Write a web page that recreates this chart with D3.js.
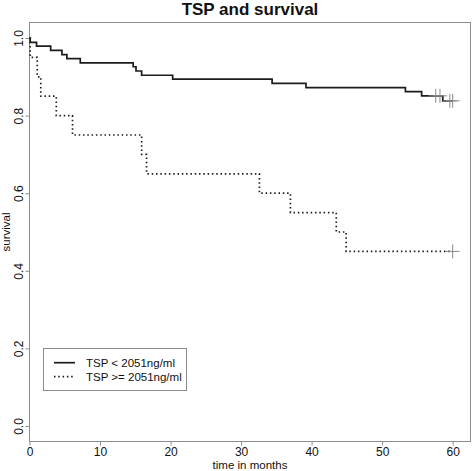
<!DOCTYPE html>
<html>
<head>
<meta charset="utf-8">
<script src="https://cdn.jsdelivr.net/npm/d3@7"></script>
<style>
  html, body { margin: 0; padding: 0; background: #fff; }
  svg { display: block; font-family: "Liberation Sans", Arial, sans-serif; }
</style>
</head>
<body>
<svg id="chart" width="472" height="471"></svg>
<script>
// ---- data ----
const groupNames = ["TSP < 2051ng/ml", "TSP >= 2051ng/ml"];

const lowTimes = [0, 0.1, 1.0, 3.0, 4.6, 5.3, 7.2, 14.7, 15.1, 15.9, 20.3, 34.4, 39.2, 53.3, 55.6, 58.6, 60.0];
const lowSurv  = [1.0, 0.989, 0.979, 0.968, 0.957, 0.947, 0.936, 0.926, 0.915, 0.904, 0.894, 0.883, 0.872, 0.862, 0.851, 0.838, 0.838];
const lowCensorTimes = [57.6, 58.2, 59.6, 60.0];
const lowCensorSurv  = [0.851, 0.851, 0.838, 0.838];

const highTimes = [0, 0.1, 1.1, 1.6, 3.8, 6.1, 15.9, 16.6, 32.6, 37.0, 43.5, 44.9, 60.0];
const highSurv  = [1.0, 0.95, 0.90, 0.85, 0.80, 0.75, 0.70, 0.65, 0.60, 0.55, 0.50, 0.45, 0.45];
const highCensorTimes = [60.0];
const highCensorSurv  = [0.45];

const xTicks = [0, 10, 20, 30, 40, 50, 60];
const yTicks = [0.0, 0.2, 0.4, 0.6, 0.8, 1.0];

// ---- layout ----
const svg = d3.select("#chart");
const L = 29.5, R = 470.5, T = 22.5, B = 441.5;
const x = d3.scaleLinear().domain([0, 62.53]).range([L, R]);
const y = d3.scaleLinear().domain([-0.04, 1.04]).range([B, T]);
const axisCol = "#8c8c8c";

svg.append("rect").attr("width", 472).attr("height", 471).attr("fill", "#fff");

// box
svg.append("rect")
  .attr("x", L).attr("y", T).attr("width", R - L).attr("height", B - T)
  .attr("fill", "none").attr("stroke", axisCol).attr("stroke-width", 1);

// x axis
const gx = svg.append("g").attr("transform", `translate(0,${B})`)
  .call(d3.axisBottom(x).tickValues(xTicks).tickFormat(d3.format("d")).tickSize(4).tickPadding(2));
gx.select(".domain").remove();
gx.selectAll(".tick line").attr("stroke", axisCol);
gx.selectAll(".tick text").attr("font-size", 12).attr("fill", "#111")
  .attr("font-family", "Liberation Sans, Arial, sans-serif");

// y axis with rotated labels
const gy = svg.append("g").attr("transform", `translate(${L},0)`)
  .call(d3.axisLeft(y).tickValues(yTicks).tickFormat(d3.format(".1f")).tickSize(4));
gy.select(".domain").remove();
gy.selectAll(".tick line").attr("stroke", axisCol);
gy.selectAll(".tick text")
  .attr("font-size", 12).attr("fill", "#111")
  .attr("font-family", "Liberation Sans, Arial, sans-serif")
  .attr("transform", "rotate(-90)")
  .attr("text-anchor", "middle")
  .attr("x", 0).attr("y", -7).attr("dy", null);

// titles
svg.append("text").attr("x", (L + R) / 2).attr("y", 14.5)
  .attr("text-anchor", "middle").attr("font-size", 17).attr("font-weight", "bold")
  .attr("fill", "#111").text("TSP and survival");
svg.append("text").attr("x", (L + R) / 2).attr("y", 468.5)
  .attr("text-anchor", "middle").attr("font-size", 11.5).attr("fill", "#111")
  .text("time in months");
svg.append("text")
  .attr("transform", `translate(9.5,${(T + B) / 2}) rotate(-90)`)
  .attr("text-anchor", "middle").attr("font-size", 11.5).attr("fill", "#111")
  .text("survival");

// curves
const line = d3.line().x(d => x(d[0])).y(d => y(d[1])).curve(d3.curveStepAfter);
const lowData = lowTimes.map((t, i) => [t, lowSurv[i]]);
const highData = highTimes.map((t, i) => [t, highSurv[i]]);

svg.append("path").datum(lowData).attr("d", line)
  .attr("fill", "none").attr("stroke", "#1c1c1c").attr("stroke-width", 1.7);
svg.append("path").datum(highData).attr("d", line)
  .attr("fill", "none").attr("stroke", "#1c1c1c").attr("stroke-width", 1.7)
  .attr("stroke-dasharray", "1.5,2.8");

// censor marks (+)
const censors = lowCensorTimes.map((t, i) => [t, lowCensorSurv[i]])
  .concat(highCensorTimes.map((t, i) => [t, highCensorSurv[i]]));
const arm = 7;
const cg = svg.append("g").attr("stroke", "#8a8a8a").attr("stroke-width", 1);
censors.forEach(c => {
  cg.append("line").attr("x1", x(c[0]) - arm).attr("x2", x(c[0]) + arm)
    .attr("y1", y(c[1])).attr("y2", y(c[1]));
  cg.append("line").attr("x1", x(c[0])).attr("x2", x(c[0]))
    .attr("y1", y(c[1]) - arm).attr("y2", y(c[1]) + arm);
});

// legend
const lg = svg.append("g");
lg.append("rect").attr("x", 43.5).attr("y", 348.5).attr("width", 143).attr("height", 42)
  .attr("fill", "#fff").attr("stroke", axisCol).attr("stroke-width", 1);
const legendRows = [
  { name: groupNames[0], dash: null, yy: 362.7 },
  { name: groupNames[1], dash: "1.5,2.8", yy: 376.7 }
];
legendRows.forEach(r => {
  const ln = lg.append("line").attr("x1", 54).attr("x2", 75).attr("y1", r.yy).attr("y2", r.yy)
    .attr("stroke", "#1c1c1c").attr("stroke-width", 1.7);
  if (r.dash) ln.attr("stroke-dasharray", r.dash);
  lg.append("text").attr("x", 86).attr("y", r.yy + 4.5).attr("font-size", 11.5)
    .attr("fill", "#111").text(r.name);
});
</script>
</body>
</html>
